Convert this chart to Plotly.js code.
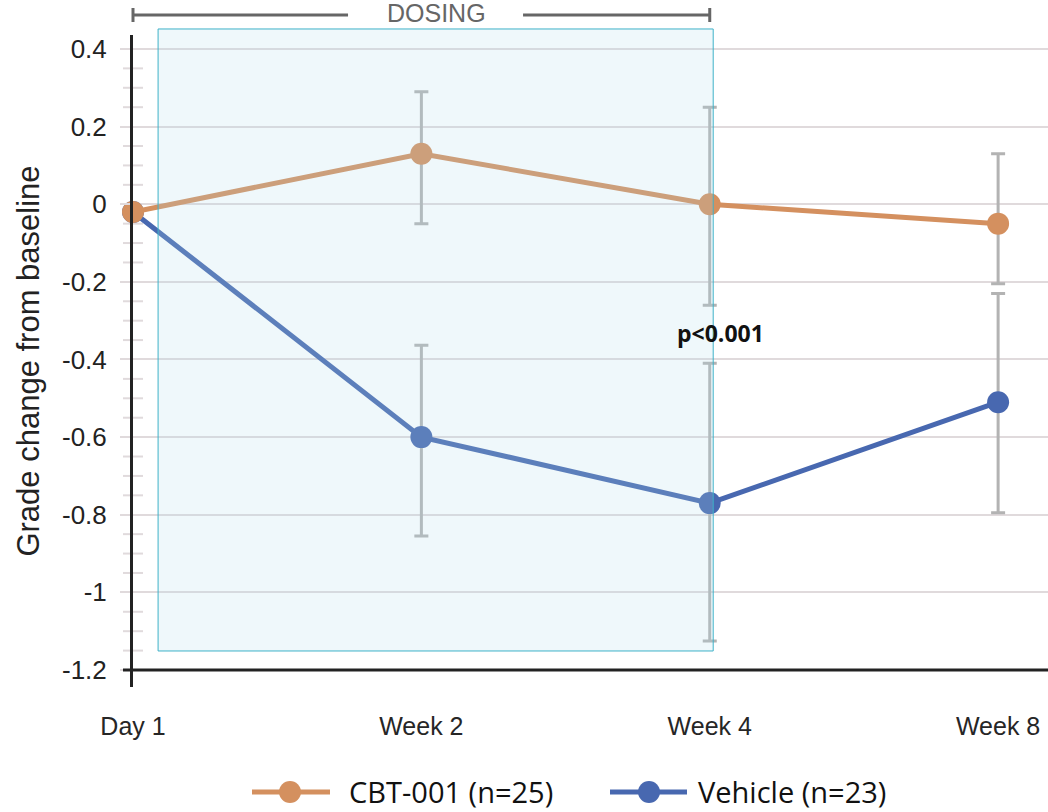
<!DOCTYPE html>
<html><head><meta charset="utf-8">
<script src="https://cdn.plot.ly/plotly-3.0.1.min.js"></script>
<style>html,body{margin:0;padding:0;background:#fff;}#chart{width:1048px;height:812px;}</style>
</head><body><div id="chart"></div>
<script>
// ---- data ----
const categories = ['Day 1', 'Week 2', 'Week 4', 'Week 8'];
const seriesNames = ['CBT-001 (n=25)', 'Vehicle (n=23)'];
const cbtMean = [-0.02, 0.13, 0.0, -0.05];
const cbtErrPlus = [null, 0.16, 0.25, 0.18];
const cbtErrMinus = [null, 0.18, 0.26, 0.155];
const vehMean = [-0.02, -0.60, -0.77, -0.51];
const vehErrPlus = [null, 0.237, 0.36, 0.28];
const vehErrMinus = [null, 0.255, 0.355, 0.285];
const yTickVals = [-1.2, -1.0, -0.8, -0.6, -0.4, -0.2, 0, 0.2, 0.4];
const yTickText = ['-1.2', '-1', '-0.8', '-0.6', '-0.4', '-0.2', '0', '0.2', '0.4'];
const dosingLabel = 'DOSING';
const pLabel = 'p<0.001';
const yTitle = 'Grade change from baseline';

// ---- style / geometry ----
const W = 1048, H = 812;
const M = {l: 133, r: 0, t: 35, b: 125};
const plotW = W - M.l - M.r, plotH = H - M.t - M.b;
const xRange = [0, 3.173];
const yRange = [-1.2438, 0.436];
const pxX = p => (p - M.l) / plotW;
const pxY = p => (H - M.b - p) / plotH;
const dX = v => (v - xRange[0]) / (xRange[1] - xRange[0]);
const dY = v => (v - yRange[0]) / (yRange[1] - yRange[0]);

const cbtColor = '#d4905f';
const vehColor = '#4868b0';
const errColor = '#b3b3b3';
const gridColor = '#e0dadc';
const axisColor = '#222222';
const sans = 'Liberation Sans, Arial, sans-serif';
const openSans = 'Open Sans, Noto Sans, sans-serif';

function errorStyle(plus, minus) {
  return {type: 'data', symmetric: false, array: plus, arrayminus: minus,
          color: errColor, thickness: 3, width: 7};
}

const traces = [
  {x: categories, y: vehMean, name: seriesNames[1], type: 'scatter', mode: 'lines+markers',
   line: {color: vehColor, width: 5}, marker: {color: vehColor, size: 22},
   error_y: errorStyle(vehErrPlus, vehErrMinus), cliponaxis: false, showlegend: false},
  {x: categories, y: cbtMean, name: seriesNames[0], type: 'scatter', mode: 'lines+markers',
   line: {color: cbtColor, width: 5}, marker: {color: cbtColor, size: 22},
   error_y: errorStyle(cbtErrPlus, cbtErrMinus), cliponaxis: false, showlegend: false}
];

const shapes = [];
// minor ticks crossing the y axis
for (let k = -23; k <= 7; k++) {
  if (k % 4 === 0) continue;
  const v = Math.round(k * 5) / 100;
  shapes.push({type: 'line', xref: 'paper', yref: 'y', x0: -10 / plotW, x1: 10 / plotW, y0: v, y1: v,
               line: {color: gridColor, width: 2}, layer: 'below'});
}
// x axis baseline at -1.2
shapes.push({type: 'line', xref: 'paper', yref: 'y', x0: -10 / plotW, x1: 1, y0: -1.2, y1: -1.2,
             line: {color: axisColor, width: 3}});
// dosing box (semi-transparent overlay)
shapes.push({type: 'rect', xref: 'paper', yref: 'paper',
             x0: dX(0.087), x1: dX(2.012), y0: dY(-1.151), y1: dY(0.4515),
             fillcolor: 'rgba(175,220,235,0.20)', line: {color: '#3eb1c8', width: 1}, layer: 'above'});
// dosing bracket
const brY = pxY(15), capTop = pxY(8), capBot = pxY(22);
const bracketCol = '#666666';
shapes.push({type: 'line', xref: 'paper', yref: 'paper', x0: dX(0), x1: dX(0.7457), y0: brY, y1: brY, line: {color: bracketCol, width: 3}});
shapes.push({type: 'line', xref: 'paper', yref: 'paper', x0: dX(1.3526), x1: dX(2), y0: brY, y1: brY, line: {color: bracketCol, width: 3}});
shapes.push({type: 'line', xref: 'paper', yref: 'paper', x0: dX(0), x1: dX(0), y0: capTop, y1: capBot, line: {color: bracketCol, width: 3}});
shapes.push({type: 'line', xref: 'paper', yref: 'paper', x0: dX(2), x1: dX(2), y0: capTop, y1: capBot, line: {color: bracketCol, width: 3}});

// manual legend
const legendItems = [
  {name: seriesNames[0], color: cbtColor, lx0: 252, lx1: 330, mx: 290, tx: 347},
  {name: seriesNames[1], color: vehColor, lx0: 610, lx1: 687, mx: 649, tx: 696}
];
const legY = 792;
const annotations = [];
legendItems.forEach(it => {
  shapes.push({type: 'line', xref: 'paper', yref: 'paper', x0: pxX(it.lx0), x1: pxX(it.lx1),
               y0: pxY(legY), y1: pxY(legY), line: {color: it.color, width: 5}});
  shapes.push({type: 'circle', xref: 'paper', yref: 'paper', x0: pxX(it.mx - 11), x1: pxX(it.mx + 11),
               y0: pxY(legY + 11), y1: pxY(legY - 11), fillcolor: it.color, line: {width: 0}});
  annotations.push({xref: 'paper', yref: 'paper', x: pxX(it.tx), y: pxY(legY - 1), text: it.name,
                    showarrow: false, xanchor: 'left', yanchor: 'middle',
                    font: {family: openSans, size: 29, color: '#111'}});
});
annotations.push({xref: 'paper', yref: 'paper', x: dX(1.051), y: pxY(13), text: dosingLabel,
                  showarrow: false, xanchor: 'center', yanchor: 'middle',
                  font: {family: sans, size: 25, color: '#666'}});
annotations.push({xref: 'x', yref: 'y', x: 2.036, y: -0.332, text: '<b>' + pLabel + '</b>',
                  showarrow: false, xanchor: 'center', yanchor: 'middle',
                  font: {family: openSans, size: 23, color: '#111'}});

const layout = {
  width: W, height: H, margin: M,
  paper_bgcolor: '#ffffff', plot_bgcolor: '#ffffff',
  showlegend: false,
  xaxis: {type: 'category', range: xRange, showgrid: false, showline: false, zeroline: false,
          ticks: '', tickfont: {family: sans, size: 25, color: '#262626'}, ticklabelstandoff: 22,
          automargin: false, fixedrange: true},
  yaxis: {range: yRange, tickmode: 'array', tickvals: yTickVals, ticktext: yTickText,
          showgrid: true, gridcolor: gridColor, gridwidth: 2, zeroline: false,
          ticks: 'outside', ticklen: 10, tickwidth: 2, tickcolor: gridColor,
          showline: true, linecolor: axisColor, linewidth: 3,
          tickfont: {family: sans, size: 26, color: '#222'}, ticklabelstandoff: 8,
          title: {text: yTitle, font: {family: sans, size: 31, color: '#222'}, standoff: 14},
          automargin: false, fixedrange: true},
  shapes: shapes,
  annotations: annotations
};

Plotly.newPlot('chart', traces, layout, {displayModeBar: false, staticPlot: true});
</script>
</body></html>
